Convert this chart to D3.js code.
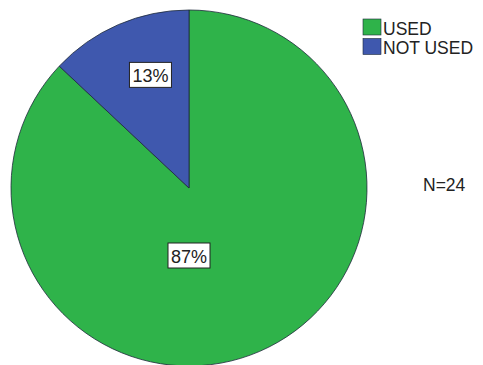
<!DOCTYPE html>
<html>
<head>
<meta charset="utf-8">
<script src="https://cdn.jsdelivr.net/npm/d3@7"></script>
<style>
  html, body { margin: 0; padding: 0; background: #fff; }
  svg { display: block; font-family: "Liberation Sans", Arial, sans-serif; }
</style>
</head>
<body>
<svg id="chart" width="483" height="365"></svg>
<script>
// Usage of the item, share of respondents (%)
const categories = ["USED", "NOT USED"];
const percents = [87, 13];
const sampleNote = "N=24";

const colors = d3.scaleOrdinal()
  .domain(categories)
  .range(["#2fb34a", "#3f58ae"]);

const svg = d3.select("#chart");
const cx = 189, cy = 188, radius = 178;

const pie = d3.pie().sort(null).value(d => d.value);
const slices = pie(categories.map((c, i) => ({ name: c, value: percents[i] })));
const arc = d3.arc().innerRadius(0).outerRadius(radius);

const g = svg.append("g").attr("transform", `translate(${cx},${cy})`);

g.selectAll("path.slice")
  .data(slices)
  .join("path")
  .attr("class", "slice")
  .attr("d", arc)
  .attr("fill", d => colors(d.data.name))
  .attr("stroke", "#1d2a3a")
  .attr("stroke-width", 0.8);

// Label placement: the large slice's label sits straight below the centre,
// smaller slices get theirs near the rim along a slightly inward angle
function labelPos(d) {
  const share = d.value / d3.sum(percents);
  let a, r;
  if (share > 0.5) { a = Math.PI; r = 67.5; }
  else { a = (d.startAngle + d.endAngle) / 2 + 0.08; r = 119.5; }
  return [Math.sin(a) * r, -Math.cos(a) * r];
}

const labels = g.selectAll("g.lbl")
  .data(slices)
  .join("g")
  .attr("class", "lbl")
  .attr("transform", d => `translate(${labelPos(d)})`);

labels.append("rect")
  .attr("x", -21).attr("y", -12.5)
  .attr("width", 42).attr("height", 25)
  .attr("fill", "#fff")
  .attr("stroke", "#222")
  .attr("stroke-width", 1);

labels.append("text")
  .attr("text-anchor", "middle")
  .attr("y", 7)
  .attr("font-size", 18)
  .attr("fill", "#222")
  .text(d => d.data.value + "%");

// Legend
const legend = svg.append("g").attr("transform", "translate(363,19)");
const items = legend.selectAll("g")
  .data(categories)
  .join("g")
  .attr("transform", (d, i) => `translate(0,${i * 19.5})`);
items.append("rect")
  .attr("width", 18).attr("height", 16)
  .attr("fill", d => colors(d))
  .attr("stroke", "#1d2a3a")
  .attr("stroke-width", 0.6);
items.append("text")
  .attr("x", 20).attr("y", 15.5)
  .attr("font-size", 17.5)
  .attr("fill", "#222")
  .text(d => d);

svg.append("text")
  .attr("x", 423).attr("y", 191)
  .attr("font-size", 17.5)
  .attr("fill", "#222")
  .text(sampleNote);
</script>
</body>
</html>
